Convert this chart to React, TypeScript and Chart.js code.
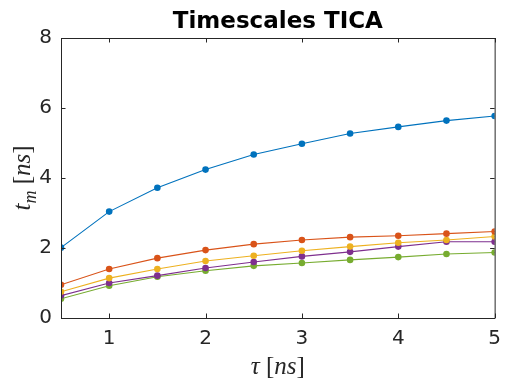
import React, { useEffect, useRef } from "react";
import { Chart, registerables } from "chart.js";

Chart.register(...registerables);

const tau = [0.5, 1, 1.5, 2, 2.5, 3, 3.5, 4, 4.5, 5];
const series1 = [2.01, 3.04, 3.72, 4.24, 4.67, 4.98, 5.27, 5.46, 5.64, 5.77];
const series2 = [0.95, 1.4, 1.71, 1.94, 2.11, 2.23, 2.31, 2.35, 2.41, 2.47];
const series3 = [0.75, 1.14, 1.4, 1.63, 1.78, 1.92, 2.04, 2.15, 2.23, 2.33];
const series4 = [0.64, 1.0, 1.21, 1.43, 1.6, 1.76, 1.89, 2.04, 2.18, 2.18];
const series5 = [0.55, 0.92, 1.18, 1.35, 1.49, 1.57, 1.66, 1.74, 1.83, 1.87];
const colors = ["#0072BD", "#D95319", "#EDB120", "#7E2F8E", "#77AC30"];
const xTicks = [1, 2, 3, 4, 5];
const yTicks = [0, 2, 4, 6, 8];
const titleText = "Timescales TICA";

type Run = { t: string; italic?: boolean; sub?: boolean };

function drawRuns(ctx: CanvasRenderingContext2D, runs: Run[], size: number) {
  const fam = '"Liberation Serif", "DejaVu Serif", serif';
  const fontFor = (r: Run) =>
    `${r.italic ? "italic " : ""}${r.sub ? Math.round(size * 0.7) : size}px ${fam}`;
  let total = 0;
  for (const r of runs) {
    ctx.font = fontFor(r);
    total += ctx.measureText(r.t).width;
  }
  let x = -total / 2;
  ctx.textAlign = "left";
  ctx.textBaseline = "alphabetic";
  for (const r of runs) {
    ctx.font = fontFor(r);
    ctx.fillText(r.t, x, r.sub ? size * 0.25 : 0);
    x += ctx.measureText(r.t).width;
  }
}

const boxPlugin = {
  id: "matlabBox",
  afterDraw(chart: any) {
    const { ctx, chartArea } = chart;
    const { left, right, top, bottom } = chartArea;
    const xs = chart.scales.x;
    const ys = chart.scales.y;
    ctx.save();
    ctx.strokeStyle = "#262626";
    ctx.lineWidth = 1;
    ctx.beginPath();
    ctx.rect(left + 0.5, top + 0.5, right - left, bottom - top);
    const tl = 4.5;
    for (const v of xTicks) {
      const px = Math.round(xs.getPixelForValue(v)) + 0.5;
      ctx.moveTo(px, bottom);
      ctx.lineTo(px, bottom - tl);
      ctx.moveTo(px, top);
      ctx.lineTo(px, top + tl);
    }
    for (const v of yTicks) {
      const py = Math.round(ys.getPixelForValue(v)) + 0.5;
      ctx.moveTo(left, py);
      ctx.lineTo(left + tl, py);
      ctx.moveTo(right, py);
      ctx.lineTo(right - tl, py);
    }
    ctx.stroke();

    // title
    ctx.fillStyle = "#000";
    ctx.font = 'bold 23px "DejaVu Sans", sans-serif';
    ctx.textAlign = "center";
    ctx.textBaseline = "alphabetic";
    ctx.fillText(titleText, (left + right) / 2, 28);

    // x label
    ctx.fillStyle = "#262626";
    ctx.save();
    ctx.translate((left + right) / 2, 374);
    drawRuns(ctx, [{ t: "τ", italic: true }, { t: " [" }, { t: "ns", italic: true }, { t: "]" }], 25);
    ctx.restore();

    // y label
    ctx.save();
    ctx.translate(30, (top + bottom) / 2);
    ctx.rotate(-Math.PI / 2);
    drawRuns(
      ctx,
      [{ t: "t", italic: true }, { t: "m", italic: true, sub: true }, { t: " [" }, { t: "ns", italic: true }, { t: "]" }],
      25
    );
    ctx.restore();
    ctx.restore();
  },
};

export default function App() {
  const ref = useRef<HTMLCanvasElement>(null);
  useEffect(() => {
    document.body.style.margin = "0";
    const all = [series1, series2, series3, series4, series5];
    const chart = new Chart(ref.current!, {
      type: "line",
      data: {
        datasets: all.map((s, i) => ({
          data: tau.map((t, j) => ({ x: t, y: s[j] })),
          borderColor: colors[i],
          backgroundColor: colors[i],
          borderWidth: 1.1,
          pointRadius: 3.3,
          pointBorderWidth: 0,
          pointBackgroundColor: colors[i],
          tension: 0,
        })),
      },
      options: {
        responsive: false,
        animation: false,
        layout: { padding: { top: 38, right: 15, left: 0, bottom: 0 } },
        plugins: { legend: { display: false }, tooltip: { enabled: false }, title: { display: false } },
        scales: {
          x: {
            type: "linear",
            min: 0.5,
            max: 5,
            grid: { display: false, drawTicks: false },
            border: { display: false },
            afterBuildTicks: (s: any) => {
              s.ticks = xTicks.map((v) => ({ value: v }));
            },
            afterFit: (s: any) => {
              s.height = 70;
            },
            ticks: {
              padding: 9,
              color: "#262626",
              font: { family: '"DejaVu Sans", sans-serif', size: 20 },
              maxRotation: 0,
              autoSkip: false,
            },
          },
          y: {
            min: 0,
            max: 8,
            grid: { display: false, drawTicks: false },
            border: { display: false },
            afterBuildTicks: (s: any) => {
              s.ticks = yTicks.map((v) => ({ value: v }));
            },
            afterFit: (s: any) => {
              s.width = 61;
            },
            ticks: {
              padding: 9,
              color: "#262626",
              font: { family: '"DejaVu Sans", sans-serif', size: 20 },
            },
          },
        },
      },
      plugins: [boxPlugin],
    });
    return () => chart.destroy();
  }, []);
  return (
    <div style={{ width: 510, height: 388, background: "#fff" }}>
      <canvas ref={ref} width={510} height={388} />
    </div>
  );
}
